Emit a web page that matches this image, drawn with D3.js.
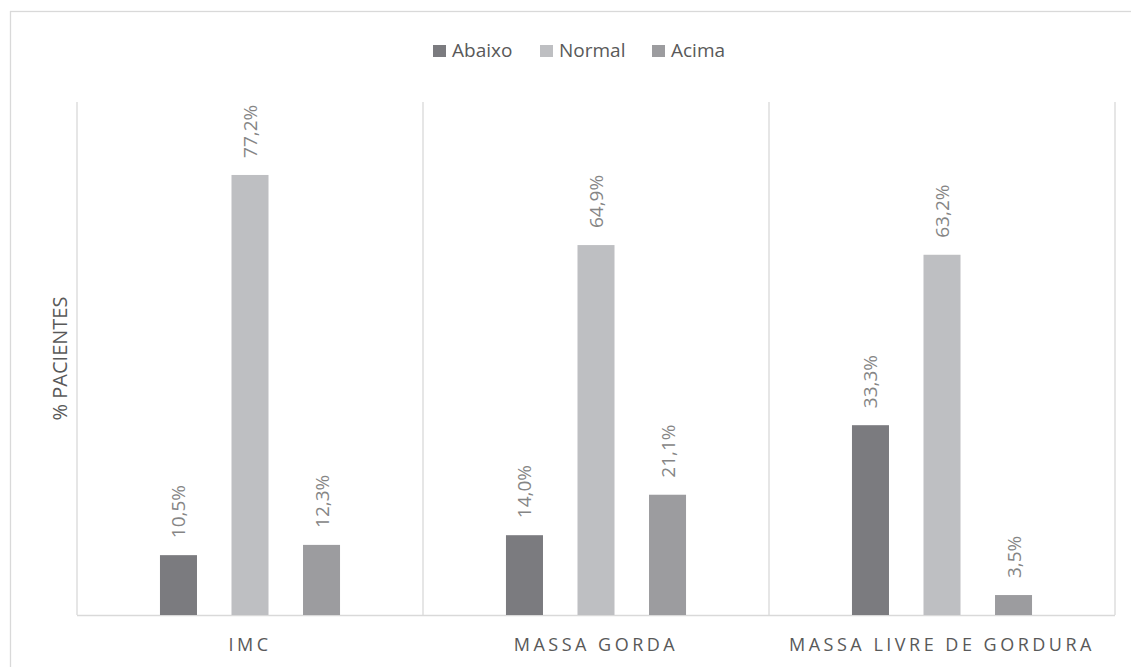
<!DOCTYPE html>
<html>
<head>
<meta charset="utf-8">
<script src="https://cdn.jsdelivr.net/npm/d3@7"></script>
<style>
  html, body { margin: 0; padding: 0; background: #fff; }
  svg { display: block; }
  text { font-family: "Open Sans", "Liberation Sans", sans-serif; }
</style>
</head>
<body>
<svg id="chart" width="1131" height="667"></svg>
<script>
const categories = ["IMC", "MASSA GORDA", "MASSA LIVRE DE GORDURA"];
const seriesNames = ["Abaixo", "Normal", "Acima"];
const abaixo = [10.5, 14.0, 33.3];
const normal = [77.2, 64.9, 63.2];
const acima = [12.3, 21.1, 3.5];
const seriesColors = ["#7b7b7f", "#bebfc2", "#9c9c9f"];
const yMax = 90;

const seriesValues = [abaixo, normal, acima];
const svg = d3.select("#chart");
const W = 1131, H = 667;
const plot = { left: 77, right: 1115, top: 102, bottom: 615 };

// outer chart border
svg.append("rect")
  .attr("x", 10.5).attr("y", 11.5)
  .attr("width", W + 20).attr("height", H + 20)
  .attr("fill", "none").attr("stroke", "#d9d9d9").attr("stroke-width", 1.3);

const x0 = d3.scaleBand().domain(categories).range([plot.left, plot.right]).paddingInner(0).paddingOuter(0);
const x1 = d3.scaleBand().domain(seriesNames).range([0, x0.bandwidth()]).paddingInner(0.4825).paddingOuter(1.16);
const y = d3.scaleLinear().domain([0, yMax]).range([plot.bottom, plot.top]);

// plot area frame: vertical lines at category boundaries
const bounds = categories.map(c => x0(c)).concat([plot.right]);
svg.append("g").selectAll("line").data(bounds).join("line")
  .attr("x1", d => d).attr("x2", d => d)
  .attr("y1", plot.top).attr("y2", plot.bottom)
  .attr("stroke", "#d9d9d9").attr("stroke-width", 1.3);

// baseline
svg.append("line")
  .attr("x1", plot.left).attr("x2", plot.right)
  .attr("y1", y(0) + 0.5).attr("y2", y(0) + 0.5)
  .attr("stroke", "#d9d9d9").attr("stroke-width", 1.5);

const data = [];
categories.forEach((c, i) => {
  seriesNames.forEach((s, j) => {
    data.push({ cat: c, series: s, value: seriesValues[j][i], color: seriesColors[j] });
  });
});

const fmt = v => d3.format(".1f")(v).replace(".", ",") + "%";

svg.append("g").selectAll("rect").data(data).join("rect")
  .attr("x", d => x0(d.cat) + x1(d.series))
  .attr("y", d => y(d.value))
  .attr("width", x1.bandwidth())
  .attr("height", d => y(0) - y(d.value))
  .attr("fill", d => d.color);

svg.append("g").selectAll("text").data(data).join("text")
  .attr("transform", d => {
    const cx = x0(d.cat) + x1(d.series) + x1.bandwidth() / 2;
    return `translate(${cx + 7},${y(d.value) - 17}) rotate(-90)`;
  })
  .attr("text-anchor", "start")
  .attr("font-size", 19)
  .attr("fill", "#858585")
  .text(d => fmt(d.value));

// category labels
svg.append("g").selectAll("text").data(categories).join("text")
  .attr("x", d => x0(d) + x0.bandwidth() / 2)
  .attr("y", 651)
  .attr("text-anchor", "middle")
  .attr("font-size", 18)
  .attr("letter-spacing", "3.5px")
  .attr("fill", "#595959")
  .text(d => d);

// y axis title
svg.append("text")
  .attr("transform", `translate(67,${(plot.top + plot.bottom) / 2}) rotate(-90)`)
  .attr("text-anchor", "middle")
  .attr("font-size", 20)
  .attr("fill", "#595959")
  .text("% PACIENTES");

// legend
const legendX = [433, 540, 652];
const lg = svg.append("g").selectAll("g").data(seriesNames).join("g")
  .attr("transform", (d, i) => `translate(${legendX[i]},44)`);
lg.append("rect").attr("x", 0).attr("y", 1).attr("width", 13).attr("height", 12)
  .attr("fill", (d, i) => seriesColors[i]);
lg.append("text").attr("x", 19).attr("y", 13).attr("font-size", 19)
  .attr("fill", "#595959").text(d => d);
</script>
</body>
</html>
